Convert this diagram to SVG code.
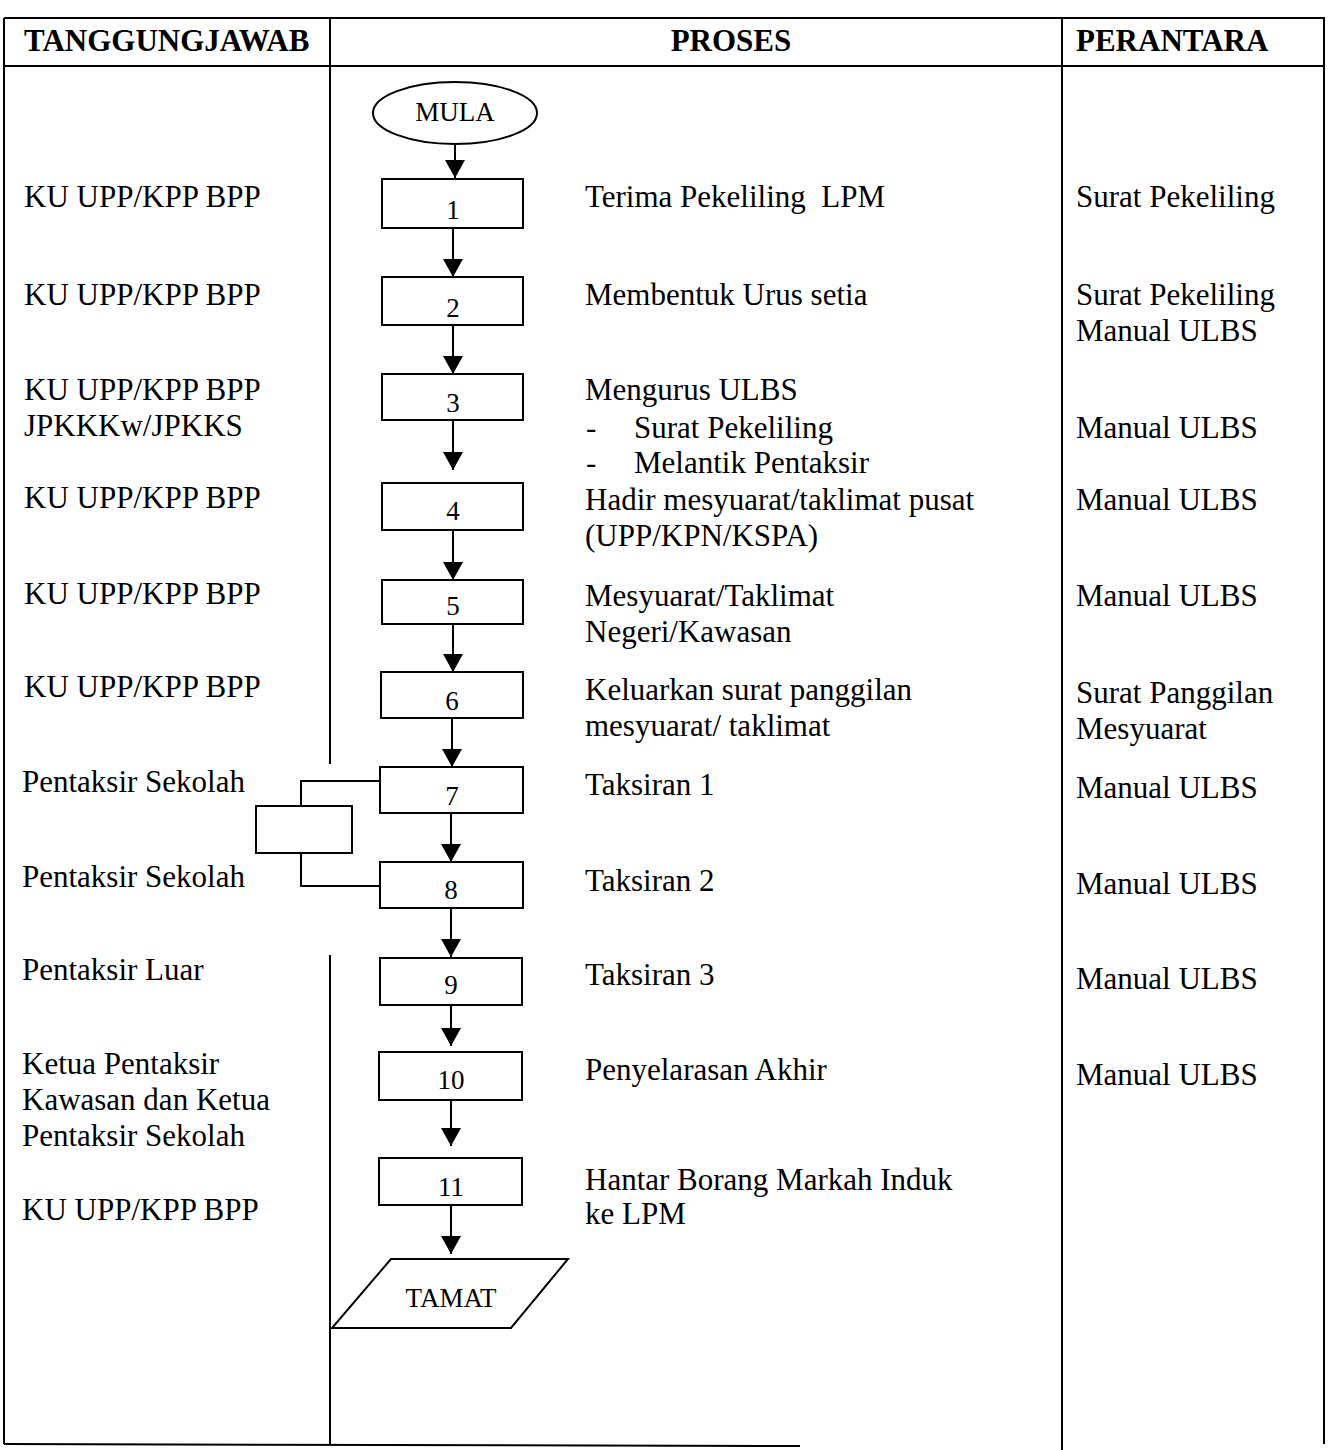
<svg xmlns="http://www.w3.org/2000/svg" width="1328" height="1450" viewBox="0 0 1328 1450">
<style>
text{font-family:"Liberation Serif","Times New Roman",serif;fill:#000;}
.t{font-size:31px;}
.h{font-size:31px;font-weight:bold;}
.n{font-size:27px;text-anchor:middle;}
.tbl{stroke:#000;stroke-width:2;fill:none;}
.box{stroke:#000;stroke-width:2;fill:#fff;}
.c{stroke:#000;stroke-width:2;fill:none;}
</style>
<defs>
<marker id="ah" markerWidth="18" markerHeight="20" refX="18" refY="10" orient="auto" markerUnits="userSpaceOnUse" viewBox="0 0 18 20">
<path d="M0,0 L18,10 L0,20 Z" fill="#000"/>
</marker>
</defs>
<rect width="1328" height="1450" fill="#fff"/>
<g id="table">
<line class="tbl" x1="4" y1="18" x2="1325" y2="18"/>
<line class="tbl" x1="4" y1="66" x2="1325" y2="66"/>
<line class="tbl" x1="4" y1="18" x2="4" y2="1444"/>
<line class="tbl" x1="1324" y1="18" x2="1324" y2="1444" stroke-width="1"/>
<line class="tbl" x1="330" y1="18" x2="330" y2="764"/>
<line class="tbl" x1="330" y1="955" x2="330" y2="1444"/>
<line class="tbl" x1="1062" y1="18" x2="1062" y2="1450"/>
<line class="tbl" x1="4" y1="1444" x2="800" y2="1446"/>
<text class="h" x="24" y="51">TANGGUNGJAWAB</text>
<text class="h" x="731" y="51" text-anchor="middle">PROSES</text>
<text class="h" x="1076" y="51">PERANTARA</text>
</g>
<g id="connectors">
<line class="c" x1="455" y1="145" x2="455" y2="178" marker-end="url(#ah)"/>
<line class="c" x1="453" y1="228" x2="453" y2="277" marker-end="url(#ah)"/>
<line class="c" x1="453" y1="325" x2="453" y2="374" marker-end="url(#ah)"/>
<line class="c" x1="453" y1="420" x2="453" y2="470" marker-end="url(#ah)"/>
<line class="c" x1="453" y1="530" x2="453" y2="580" marker-end="url(#ah)"/>
<line class="c" x1="453" y1="624" x2="453" y2="672" marker-end="url(#ah)"/>
<line class="c" x1="452" y1="718" x2="452" y2="767" marker-end="url(#ah)"/>
<line class="c" x1="451" y1="813" x2="451" y2="862" marker-end="url(#ah)"/>
<line class="c" x1="451" y1="908" x2="451" y2="957" marker-end="url(#ah)"/>
<line class="c" x1="451" y1="1005" x2="451" y2="1046" marker-end="url(#ah)"/>
<line class="c" x1="451" y1="1100" x2="451" y2="1146" marker-end="url(#ah)"/>
<line class="c" x1="451" y1="1205" x2="451" y2="1254" marker-end="url(#ah)"/>
<polyline class="c" points="380,781 301,781 301,806"/>
<polyline class="c" points="301,853 301,886 380,886"/>
</g>
<g id="mula"><ellipse class="box" cx="455" cy="113" rx="82" ry="31"/><text class="n" x="455" y="121" font-size="25">MULA</text></g>
<g id="n1"><rect class="box" x="382" y="179" width="141" height="49"/><text class="n" x="453" y="219">1</text></g>
<g id="n2"><rect class="box" x="382" y="277" width="141" height="48"/><text class="n" x="453" y="317">2</text></g>
<g id="n3"><rect class="box" x="382" y="374" width="141" height="46"/><text class="n" x="453" y="412">3</text></g>
<g id="n4"><rect class="box" x="382" y="483" width="141" height="47"/><text class="n" x="453" y="520">4</text></g>
<g id="n5"><rect class="box" x="382" y="580" width="141" height="44"/><text class="n" x="453" y="615">5</text></g>
<g id="n6"><rect class="box" x="381" y="672" width="142" height="46"/><text class="n" x="452" y="710">6</text></g>
<g id="n7"><rect class="box" x="380" y="767" width="143" height="46"/><text class="n" x="452" y="805">7</text></g>
<g id="n8"><rect class="box" x="380" y="862" width="143" height="46"/><text class="n" x="451" y="899">8</text></g>
<g id="side"><rect class="box" x="256" y="806" width="96" height="47"/></g>
<g id="n9"><rect class="box" x="380" y="958" width="142" height="47"/><text class="n" x="451" y="994">9</text></g>
<g id="n10"><rect class="box" x="379" y="1052" width="143" height="48"/><text class="n" x="451" y="1089">10</text></g>
<g id="n11"><rect class="box" x="379" y="1158" width="143" height="47"/><text class="n" x="451" y="1196">11</text></g>
<g id="tamat"><polygon class="box" points="391,1259 568,1259 511,1328 332,1328"/><text class="n" x="451" y="1307">TAMAT</text></g>
<g id="resp">
<text class="t" x="24" y="207">KU UPP/KPP BPP</text>
<text class="t" x="24" y="305">KU UPP/KPP BPP</text>
<text class="t" x="24" y="400">KU UPP/KPP BPP</text>
<text class="t" x="24" y="436">JPKKKw/JPKKS</text>
<text class="t" x="24" y="508">KU UPP/KPP BPP</text>
<text class="t" x="24" y="604">KU UPP/KPP BPP</text>
<text class="t" x="24" y="697">KU UPP/KPP BPP</text>
<text class="t" x="22" y="792">Pentaksir Sekolah</text>
<text class="t" x="22" y="887">Pentaksir Sekolah</text>
<text class="t" x="22" y="980">Pentaksir Luar</text>
<text class="t" x="22" y="1074">Ketua Pentaksir</text>
<text class="t" x="22" y="1110">Kawasan dan Ketua</text>
<text class="t" x="22" y="1146">Pentaksir Sekolah</text>
<text class="t" x="22" y="1220">KU UPP/KPP BPP</text>
</g>
<g id="proc">
<text class="t" x="585" y="207" xml:space="preserve">Terima Pekeliling  LPM</text>
<text class="t" x="585" y="305">Membentuk Urus setia</text>
<text class="t" x="585" y="400">Mengurus ULBS</text>
<text class="t" x="586" y="438">-</text><text class="t" x="634" y="438">Surat Pekeliling</text>
<text class="t" x="586" y="473">-</text><text class="t" x="634" y="473">Melantik Pentaksir</text>
<text class="t" x="585" y="510">Hadir mesyuarat/taklimat pusat</text>
<text class="t" x="585" y="546">(UPP/KPN/KSPA)</text>
<text class="t" x="585" y="606">Mesyuarat/Taklimat</text>
<text class="t" x="585" y="642">Negeri/Kawasan</text>
<text class="t" x="585" y="700">Keluarkan surat panggilan</text>
<text class="t" x="585" y="736">mesyuarat/ taklimat</text>
<text class="t" x="585" y="795">Taksiran 1</text>
<text class="t" x="585" y="891">Taksiran 2</text>
<text class="t" x="585" y="985">Taksiran 3</text>
<text class="t" x="585" y="1080">Penyelarasan Akhir</text>
<text class="t" x="585" y="1190">Hantar Borang Markah Induk</text>
<text class="t" x="585" y="1224">ke LPM</text>
</g>
<g id="media">
<text class="t" x="1076" y="207">Surat Pekeliling</text>
<text class="t" x="1076" y="305">Surat Pekeliling</text>
<text class="t" x="1076" y="341">Manual ULBS</text>
<text class="t" x="1076" y="438">Manual ULBS</text>
<text class="t" x="1076" y="510">Manual ULBS</text>
<text class="t" x="1076" y="606">Manual ULBS</text>
<text class="t" x="1076" y="703">Surat Panggilan</text>
<text class="t" x="1076" y="739">Mesyuarat</text>
<text class="t" x="1076" y="798">Manual ULBS</text>
<text class="t" x="1076" y="894">Manual ULBS</text>
<text class="t" x="1076" y="989">Manual ULBS</text>
<text class="t" x="1076" y="1085">Manual ULBS</text>
</g>
</svg>
